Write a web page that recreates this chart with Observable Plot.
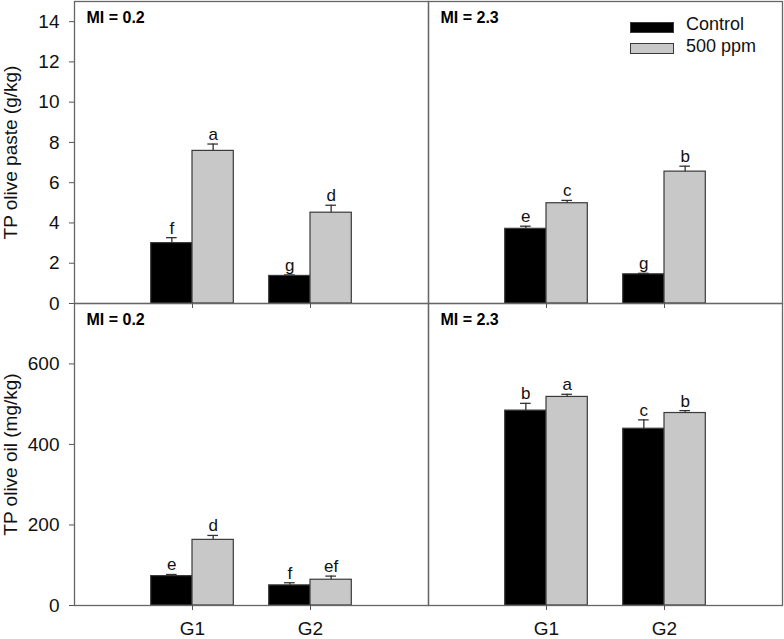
<!DOCTYPE html>
<html>
<head>
<meta charset="utf-8">
<script src="https://cdn.jsdelivr.net/npm/d3@7"></script>
<script src="https://cdn.jsdelivr.net/npm/@observablehq/plot@0.6"></script>
<style>
  body { margin: 0; background: white; }
  #wrap { position: relative; width: 784px; height: 639px; font-family: "Liberation Sans", Arial, sans-serif; }
  #wrap svg { position: absolute; left: 0; }
  .leg { position: absolute; font-size: 18px; color: #111; }
  .sw { position: absolute; width: 44px; box-sizing: border-box; }
</style>
</head>
<body>
<div id="wrap"></div>
<script>
const miLevels = ["MI = 0.2", "MI = 2.3"];
const groups = ["G1", "G2"];
const treatments = ["Control", "500 ppm"];
// order within each array: MI level -> group -> treatment
const pasteValues = [3.00, 7.58, 1.37, 4.51, 3.71, 4.98, 1.45, 6.55];
const pasteErrors = [0.27, 0.34, 0.05, 0.37, 0.13, 0.14, 0.05, 0.27];
const pasteLetters = ["f", "a", "g", "d", "e", "c", "g", "b"];
const oilValues = [73, 163, 50, 64, 484, 518, 439, 478];
const oilErrors = [4, 11, 6.5, 9, 18, 6.5, 22, 6];
const oilLetters = ["e", "d", "f", "ef", "b", "a", "c", "b"];
const pasteTicks = [0, 2, 4, 6, 8, 10, 12, 14];
const oilTicks = [0, 200, 400, 600];

const fillColors = ["#000000", "#c8c8c8"];
const barW = 0.35;

function makeTable(values, errors, letters) {
  return values.map((v, i) => ({
    mi: miLevels[Math.floor(i / 4)],
    group: groups[Math.floor(i / 2) % 2],
    treat: treatments[i % 2],
    value: v, err: errors[i], letter: letters[i]
  }));
}
const leftEdge = d => groups.indexOf(d.group) + 1 - barW + treatments.indexOf(d.treat) * barW;
const mid = d => leftEdge(d) + barW / 2;

function panelRow({data, yDomain, ticks, label, height, marginBottom, showLabels}) {
  return Plot.plot({
    width: 784, height, marginLeft: 74, marginRight: 2, marginTop: 1, marginBottom,
    style: {fontFamily: "Liberation Sans, Arial, sans-serif", fontSize: "19px", background: "transparent", overflow: "visible", color: "#111"},
    fx: {domain: miLevels, padding: 0, axis: null, label: null},
    x: {domain: [0, 3], label: null},
    y: {domain: yDomain, label: null},
    color: {domain: treatments, range: fillColors},
    marks: [
      Plot.rect(data, {fx: "mi", x1: leftEdge, x2: d => leftEdge(d) + barW, y1: 0, y2: "value",
        fill: "treat", stroke: "#3a3a3a", strokeWidth: 1.2}),
      Plot.ruleX(data, {fx: "mi", x: mid, y1: "value", y2: d => d.value + d.err, stroke: "#333", strokeWidth: 1.3}),
      Plot.ruleY(data, {fx: "mi", y: d => d.value + d.err, x1: d => mid(d) - 0.045, x2: d => mid(d) + 0.045, stroke: "#333", strokeWidth: 1.3}),
      Plot.text(data, {fx: "mi", x: mid, y: d => d.value + d.err, text: "letter", dy: -4, lineAnchor: "bottom", fontSize: 17, fill: "#111"}),
      Plot.text(miLevels, {fx: d => d, text: d => d, frameAnchor: "top-left", dx: 12, dy: 10, lineAnchor: "top", fontWeight: "bold", fontSize: 16, fill: "#000"}),
      Plot.frame({stroke: "#666", strokeWidth: 1.3}),
      Plot.axisY({ticks, tickSize: 5, tickPadding: 10, stroke: "#555", fill: "#111", fontSize: 19,
        label, labelArrow: "none", labelAnchor: "center", labelOffset: 71}),
      Plot.axisX({ticks: [1, 2], tickSize: 5, tickPadding: 11, stroke: "#555", fill: "#111", fontSize: 19,
        tickFormat: showLabels ? (t => groups[t - 1]) : (() => ""), label: null})
    ]
  });
}

const wrap = document.getElementById("wrap");
const topRow = panelRow({data: makeTable(pasteValues, pasteErrors, pasteLetters), yDomain: [0, 15], ticks: pasteTicks,
  label: "TP olive paste (g/kg)", height: 310, marginBottom: 7, showLabels: false});
const bottomRow = panelRow({data: makeTable(oilValues, oilErrors, oilLetters), yDomain: [0, 750], ticks: oilTicks,
  label: "TP olive oil (mg/kg)", height: 337, marginBottom: 34, showLabels: true});
bottomRow.style.top = "302px";
topRow.style.top = "0px";
wrap.appendChild(bottomRow);
wrap.appendChild(topRow);

// legend
treatments.forEach((t, i) => {
  const sw = document.createElement("div");
  sw.className = "sw";
  sw.style.left = "630px";
  sw.style.top = (i === 0 ? 21.5 : 43) + "px";
  sw.style.height = (i === 0 ? 11 : 10.5) + "px";
  sw.style.background = fillColors[i];
  sw.style.border = "1.2px solid #3a3a3a";
  wrap.appendChild(sw);
  const lab = document.createElement("div");
  lab.className = "leg";
  lab.textContent = t;
  lab.style.left = "686px";
  lab.style.top = (i === 0 ? 14 : 36) + "px";
  lab.style.lineHeight = "20px";
  wrap.appendChild(lab);
});
</script>
</body>
</html>
